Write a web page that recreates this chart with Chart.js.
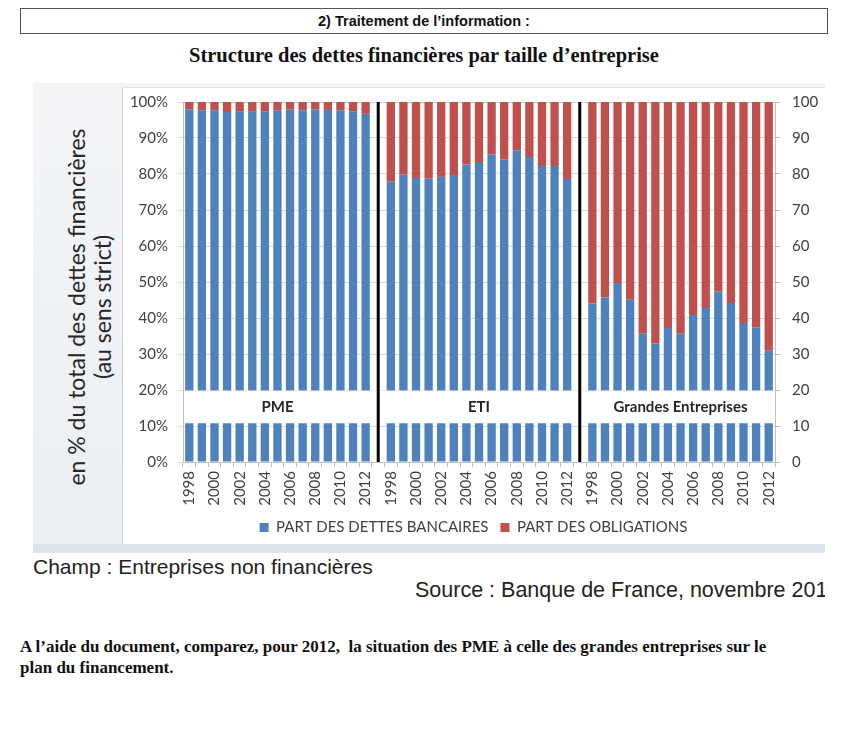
<!DOCTYPE html>
<html>
<head>
<meta charset="utf-8">
<script src="https://cdn.jsdelivr.net/npm/chart.js@4"></script>
<style>
  html, body { margin:0; padding:0; background:#fff; }
  body { width:863px; height:750px; position:relative; overflow:hidden; }
  #hdr { position:absolute; left:20px; top:8px; width:806px; height:24px; border:1px solid #555;
         font:bold 14.5px "Liberation Sans", Arial, sans-serif; text-align:center; line-height:24px; color:#111; }
  #title { position:absolute; left:0; top:44px; width:848px; text-align:center;
           font:bold 20.5px "Liberation Serif", "Times New Roman", serif; color:#111; }
  #frame { position:absolute; left:33px; top:83px; width:792px; height:470px;
           background:linear-gradient(#f3f5f7, #eceff2); }
  #strip { position:absolute; left:33px; top:544px; width:792px; height:9px; background:#dde4ec; }
  #white { position:absolute; left:122px; top:87px; width:703px; height:457px; background:#fff;
           border-left:1px solid #cfd3d8; border-top:1px solid #e0e3e6; box-sizing:border-box; }
  #cv { position:absolute; left:122px; top:81px; width:703px; height:464px; }
  #ytitle { position:absolute; left:-111px; top:281px; width:400px; height:52px; transform:rotate(-90deg);
            text-align:center; font:23px Lato, "Open Sans", sans-serif; line-height:26px; color:#262626; }
  #champ { position:absolute; left:33px; top:555px; font:21px "Liberation Sans", Arial, sans-serif; color:#222; white-space:nowrap; }
  #source { position:absolute; left:415px; top:578px; width:410px; overflow:hidden; white-space:nowrap;
            font:21.5px "Liberation Sans", Arial, sans-serif; color:#222; }
  #question { position:absolute; left:20px; top:636px; width:790px;
              font:bold 17px "Liberation Serif", "Times New Roman", serif; line-height:21px; color:#111; }
</style>
</head>
<body>
<div id="hdr">2) Traitement de l’information :</div>
<div id="title">Structure des dettes financières par taille d’entreprise</div>
<div id="frame"></div>
<div id="strip"></div>
<div id="white"></div>
<canvas id="cv" width="703" height="464"></canvas>
<div id="ytitle">en % du total des dettes financières<br>(au sens strict)</div>
<div id="champ">Champ : Entreprises non financières</div>
<div id="source">Source : Banque de France, novembre 2013</div>
<div id="question">A l’aide du document, comparez, pour 2012,&nbsp; la situation des PME à celle des grandes entreprises sur le<br>plan du financement.</div>

<script>
const years = [1998,1999,2000,2001,2002,2003,2004,2005,2006,2007,2008,2009,2010,2011,2012];
const groups = ['PME', 'ETI', 'Grandes Entreprises'];
const seriesNames = ['PART DES DETTES BANCAIRES', 'PART DES OBLIGATIONS'];
const yTicksLeft = ['0%','10%','20%','30%','40%','50%','60%','70%','80%','90%','100%'];
const yTicksRight = ['0','10','20','30','40','50','60','70','80','90','100'];

const pmeBank = [97.9, 97.7, 97.7, 97.2, 97.4, 97.4, 97.4, 97.7, 97.9, 97.7, 97.9, 97.8, 97.7, 97.4, 96.7];
const pmeBond = [2.1, 2.3, 2.3, 2.8, 2.6, 2.6, 2.6, 2.3, 2.1, 2.3, 2.1, 2.2, 2.3, 2.6, 3.3];
const etiBank = [77.9, 79.8, 78.9, 78.7, 79.2, 79.7, 82.6, 83.3, 85.4, 84.0, 86.6, 84.7, 82.2, 82.2, 78.6];
const etiBond = [22.1, 20.2, 21.1, 21.3, 20.8, 20.3, 17.4, 16.7, 14.6, 16.0, 13.4, 15.3, 17.8, 17.8, 21.4];
const geBank = [44.0, 45.7, 49.7, 45.1, 35.6, 32.9, 37.2, 35.6, 40.8, 42.8, 47.4, 44.2, 38.6, 37.4, 30.9];
const geBond = [56.0, 54.3, 50.3, 54.9, 64.4, 67.1, 62.8, 64.4, 59.2, 57.2, 52.6, 55.8, 61.4, 62.6, 69.1];

// Build category list: three groups separated by an empty slot
const labels = [...years.map(String), '', ...years.map(String), '', ...years.map(String)];
const bankData = [...pmeBank, null, ...etiBank, null, ...geBank];
const bondData = [...pmeBond, null, ...etiBond, null, ...geBond];
const sepIdx = [years.length, years.length * 2 + 1];
const groupRanges = [[0, years.length - 1], [years.length + 1, years.length * 2], [years.length * 2 + 2, years.length * 3 + 1]];

const fontFam = 'Lato, "Open Sans", sans-serif';

const groupBoxes = {
  id: 'groupBoxes',
  afterDatasetsDraw(chart) {
    const {ctx, chartArea, scales} = chart;
    const x = scales.x, y = scales.y;
    const yTop = y.getPixelForValue(20), yBot = y.getPixelForValue(10.9);
    const seps = sepIdx.map(i => x.getPixelForValue(i));
    const edges = [[chartArea.left + 1, seps[0]], [seps[0], seps[1]], [seps[1], chartArea.right]];
    ctx.save();
    ctx.fillStyle = '#ffffff';
    edges.forEach(([a, b]) => ctx.fillRect(a, yTop + 0.5, b - a, yBot - yTop));
    ctx.strokeStyle = '#000';
    ctx.lineWidth = 3;
    seps.forEach(s => {
      ctx.beginPath();
      ctx.moveTo(s, chartArea.top);
      ctx.lineTo(s, chartArea.bottom);
      ctx.stroke();
    });
    ctx.fillStyle = '#262626';
    ctx.font = 'bold 15px ' + fontFam;
    ctx.textAlign = 'center';
    ctx.textBaseline = 'middle';
    groupRanges.forEach(([s, e], gi) => {
      const cx = (x.getPixelForValue(s) + x.getPixelForValue(e)) / 2;
      ctx.fillText(groups[gi], cx, (yTop + yBot) / 2 + 1);
    });
    ctx.restore();
  }
};

new Chart(document.getElementById('cv'), {
  type: 'bar',
  data: {
    labels: labels,
    datasets: [
      { label: seriesNames[0], data: bankData, backgroundColor: '#4f81bd', yAxisID: 'y' },
      { label: seriesNames[1], data: bondData, backgroundColor: '#c0504d', yAxisID: 'y' }
    ]
  },
  options: {
    responsive: false,
    animation: false,
    devicePixelRatio: 1,
    layout: { padding: { top: 0, bottom: 0, left: 0, right: 0 } },
    datasets: { bar: { barPercentage: 0.66, categoryPercentage: 1.0 } },
    plugins: {
      tooltip: { enabled: false },
      legend: {
        position: 'bottom',
        labels: {
          boxWidth: 9, boxHeight: 9, padding: 12,
          color: '#404040',
          font: { family: fontFam, size: 15 }
        }
      }
    },
    scales: {
      x: {
        stacked: true,
        offset: true,
        grid: { display: true, drawOnChartArea: false, offset: true, tickLength: 5, color: '#bfbfbf' },
        border: { color: '#bfbfbf' },
        ticks: {
          autoSkip: false, maxRotation: 90, minRotation: 90, padding: 4,
          color: '#404040', font: { family: fontFam, size: 15 },
          callback: function(v, i) { const l = labels[i]; return (l !== '' && Number(l) % 2 === 0) ? l : ''; }
        },
        afterFit(scale) { scale.height = 46; }
      },
      y: {
        stacked: true, min: 0, max: 100, position: 'left',
        grid: { color: '#d9d9d9', tickLength: 5 },
        border: { color: '#bfbfbf' },
        ticks: { stepSize: 10, padding: 10, color: '#404040', font: { family: fontFam, size: 15 },
                 callback: (v) => yTicksLeft[Math.round(v / 10)] },
        afterFit(scale) { scale.width = 61; }
      },
      y2: {
        min: 0, max: 100, position: 'right',
        grid: { drawOnChartArea: false, tickLength: 5, color: '#bfbfbf' },
        border: { color: '#bfbfbf' },
        ticks: { stepSize: 10, padding: 12, color: '#404040', font: { family: fontFam, size: 15 },
                 callback: (v) => yTicksRight[Math.round(v / 10)] },
        afterFit(scale) { scale.width = 50; }
      }
    }
  },
  plugins: [groupBoxes]
});
</script>
</body>
</html>
